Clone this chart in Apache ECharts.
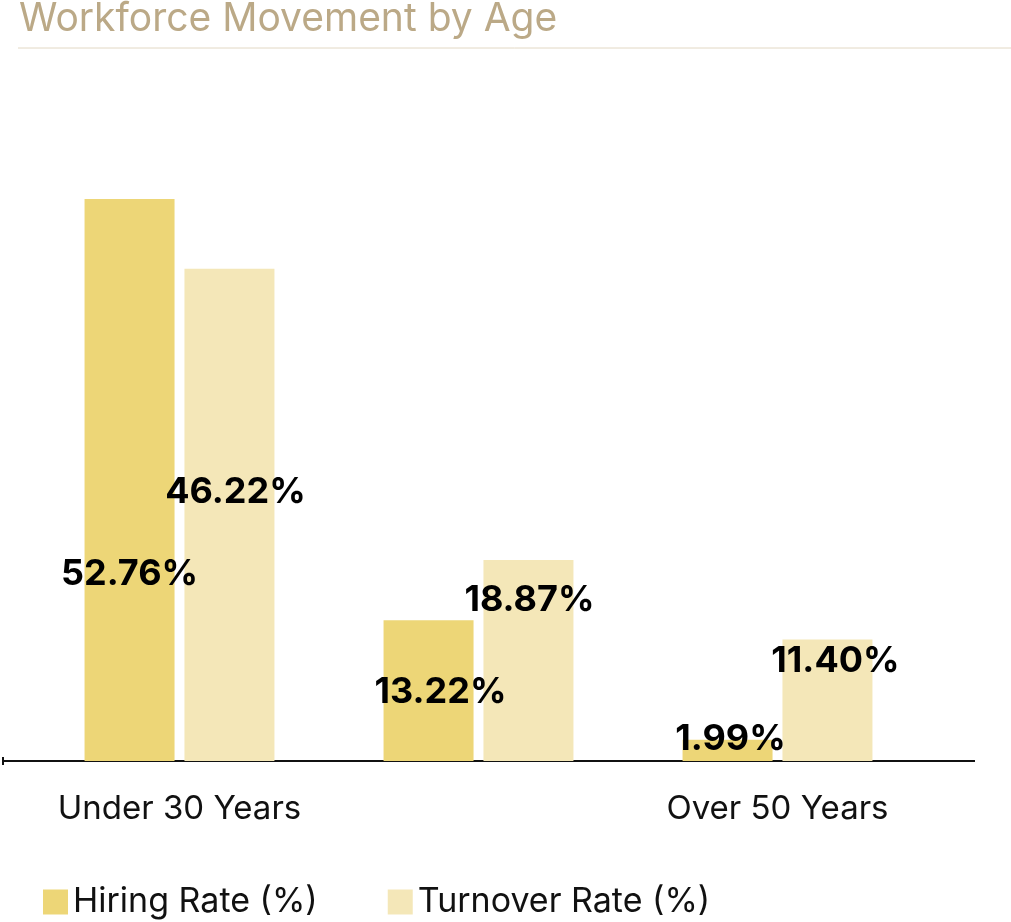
<!DOCTYPE html>
<html><head><meta charset="utf-8">
<script src="https://cdn.jsdelivr.net/npm/echarts@6/dist/echarts.min.js"></script>
<style>html,body{margin:0;padding:0;background:#fff}#c{width:1011px;height:922px}</style>
</head><body><div id="c"></div>
<script>
const categories = ['Under 30 Years', '30 - 50 Years', 'Over 50 Years'];
const hiringRate = [52.76, 13.22, 1.99];
const turnoverRate = [46.22, 18.87, 11.40];
const seriesNames = ['Hiring Rate (%)', 'Turnover Rate (%)'];

const hiringOffsets = [[0, 398], [12, 95], [3, 22]];
const turnoverOffsets = [[6, 246], [1, 63], [8, 45]];
function items(vals, offs) {
  return vals.map((v, i) => ({ value: v, label: { offset: offs[i] } }));
}
const labelStyle = { show: true, position: 'top', distance: 5, color: '#000', fontSize: 36, fontWeight: 'bold', fontFamily: 'Inter', formatter: p => p.value.toFixed(2) + '%' };

const chart = echarts.init(document.getElementById('c'));
chart.setOption({
  animation: false,
  textStyle: { fontFamily: 'Inter' },
  title: { text: 'Workforce Movement by Age', left: 14, top: -5, textStyle: { color: '#bba987', fontSize: 39, fontWeight: 'normal', fontFamily: 'Inter' } },
  graphic: [
    { type: 'line', shape: { x1: 18, y1: 48, x2: 1011, y2: 48 }, style: { stroke: '#e2d8c4', lineWidth: 1 } },
    { type: 'line', shape: { x1: 3, y1: 761, x2: 975, y2: 761 }, style: { stroke: '#111', lineWidth: 2 } },
    { type: 'line', shape: { x1: 3, y1: 757, x2: 3, y2: 765 }, style: { stroke: '#111', lineWidth: 2 } }
  ],
  legend: { left: 38, top: 880, itemWidth: 25, itemHeight: 25, itemGap: 70, icon: 'rect', textStyle: { fontSize: 34, color: '#111', fontFamily: 'Inter' } },
  grid: { left: 30, right: 84, top: 122, bottom: 161 },
  xAxis: { type: 'category', data: categories, axisLine: { show: false }, axisTick: { show: false },
    axisLabel: { fontSize: 33, color: '#111', margin: 32, fontFamily: 'Inter' } },
  yAxis: { type: 'value', min: 0, max: 60, show: false, splitLine: { show: false } },
  series: [
    { name: seriesNames[0], type: 'bar', barWidth: 90, barGap: '11%', itemStyle: { color: '#edd677' }, label: labelStyle, data: items(hiringRate, hiringOffsets) },
    { name: seriesNames[1], type: 'bar', barWidth: 90, itemStyle: { color: '#f4e7b8' }, label: labelStyle, data: items(turnoverRate, turnoverOffsets) }
  ]
});
</script></body></html>
